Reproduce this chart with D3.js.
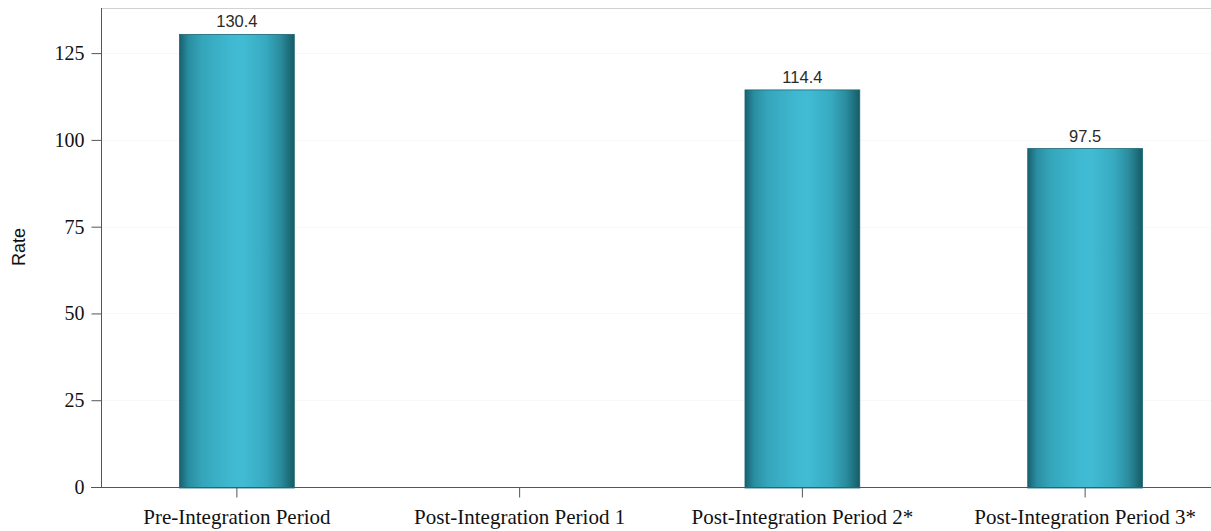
<!DOCTYPE html>
<html>
<head>
<meta charset="utf-8">
<script src="https://cdn.jsdelivr.net/npm/d3@7"></script>
<style>
  html, body { margin: 0; padding: 0; background: #fff; }
  svg { display: block; }
</style>
</head>
<body>
<svg id="chart" width="1211" height="531"></svg>
<script>
// Rates by integration period
const categories = ["Pre-Integration Period", "Post-Integration Period 1", "Post-Integration Period 2*", "Post-Integration Period 3*"];
const rates = [130.4, null, 114.4, 97.5];
const rateLabels = ["130.4", "", "114.4", "97.5"];
const yTicks = [0, 25, 50, 75, 100, 125];
const yTitle = "Rate";

const W = 1211, H = 531;
const plot = { left: 101, top: 8, bottom: 487, right: 1211 };

const svg = d3.select("#chart");

const x = d3.scaleBand()
  .domain(categories)
  .range([95.5, 1226.5])
  .paddingInner(0.594)
  .paddingOuter(0.297);

const y = d3.scaleLinear()
  .domain([0, 138])
  .range([plot.bottom, plot.top]);

// bar shading: dark edges, light centre
const defs = svg.append("defs");
const grad = defs.append("linearGradient")
  .attr("id", "barShade")
  .attr("x1", "0").attr("x2", "1").attr("y1", "0").attr("y2", "0");
[
  [0.00, "#17606e"],
  [0.03, "#1e7283"],
  [0.08, "#2a8ea1"],
  [0.20, "#35a6bb"],
  [0.45, "#3fb9d1"],
  [0.55, "#41bcd4"],
  [0.75, "#37aac0"],
  [0.88, "#2a8c9e"],
  [0.96, "#1d6c79"],
  [1.00, "#175a66"]
].forEach(([o, c]) => grad.append("stop").attr("offset", o).attr("stop-color", c));

// faint horizontal grid
svg.append("g")
  .selectAll("line")
  .data(yTicks.filter(t => t > 0))
  .join("line")
  .attr("x1", plot.left).attr("x2", plot.right)
  .attr("y1", d => Math.round(y(d)) + 0.5).attr("y2", d => Math.round(y(d)) + 0.5)
  .attr("stroke", "#f8f8f8")
  .attr("stroke-width", 1);

// top frame line
svg.append("line")
  .attr("x1", plot.left).attr("x2", plot.right)
  .attr("y1", plot.top + 0.5).attr("y2", plot.top + 0.5)
  .attr("stroke", "#d2d2d2");

// bars
const data = categories.map((c, i) => ({ c, v: rates[i], label: rateLabels[i] }))
  .filter(d => d.v != null);

svg.append("g")
  .selectAll("rect")
  .data(data)
  .join("rect")
  .attr("x", d => x(d.c))
  .attr("y", d => y(d.v))
  .attr("width", x.bandwidth())
  .attr("height", d => y(0) - y(d.v) + 1)
  .attr("fill", "url(#barShade)")
  .attr("stroke", "#1b6673")
  .attr("stroke-width", 0.8);

// value labels
svg.append("g")
  .selectAll("text")
  .data(data)
  .join("text")
  .attr("x", d => x(d.c) + x.bandwidth() / 2)
  .attr("y", d => y(d.v) - 7)
  .attr("text-anchor", "middle")
  .attr("font-family", "Liberation Sans, Arial, sans-serif")
  .attr("font-size", 16.5)
  .attr("fill", "#2a2a2a")
  .text(d => d.label);

// y axis
const yAxis = d3.axisLeft(y).tickValues(yTicks).tickSize(10).tickPadding(7);
const gy = svg.append("g")
  .attr("transform", `translate(${plot.left + 0.5},0)`)
  .call(yAxis);
gy.select(".domain").attr("d", `M0,${plot.top}V${plot.bottom}`).attr("stroke", "#555");
gy.selectAll(".tick line").attr("stroke", "#555");
gy.selectAll(".tick text")
  .attr("font-family", "Liberation Serif, Times New Roman, serif")
  .attr("font-size", 20)
  .attr("fill", "#111");

// x axis
const xAxis = d3.axisBottom(x).tickSize(10).tickPadding(12);
const gx = svg.append("g")
  .attr("transform", `translate(0,${plot.bottom + 0.5})`)
  .call(xAxis);
gx.select(".domain").attr("d", `M${plot.left - 10},0H${plot.right}`).attr("stroke", "#555");
gx.selectAll(".tick line").attr("stroke", "#555");
gx.selectAll(".tick text")
  .attr("font-family", "Liberation Serif, Times New Roman, serif")
  .attr("font-size", 21)
  .attr("fill", "#111");

// y axis title
svg.append("text")
  .attr("transform", `translate(25,247) rotate(-90)`)
  .attr("text-anchor", "middle")
  .attr("font-family", "Liberation Sans, Arial, sans-serif")
  .attr("font-size", 18)
  .attr("fill", "#111")
  .text(yTitle);
</script>
</body>
</html>
